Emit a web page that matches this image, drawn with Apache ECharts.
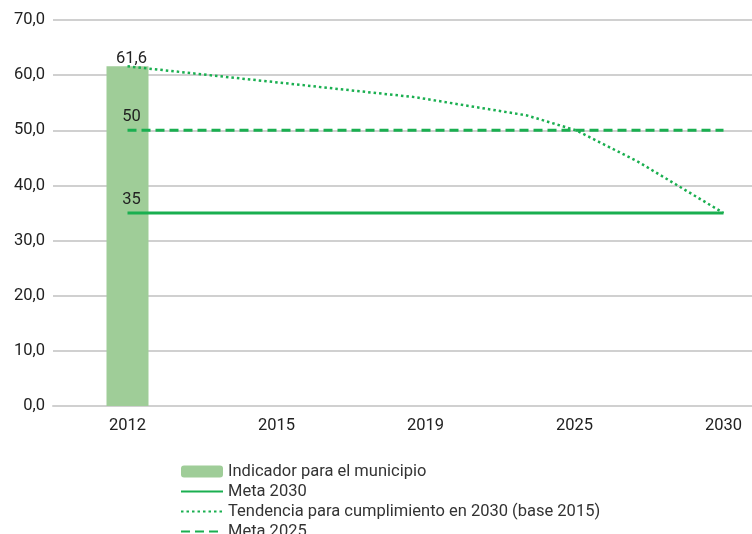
<!DOCTYPE html>
<html>
<head>
<meta charset="utf-8">
<script src="https://cdn.jsdelivr.net/npm/echarts@6/dist/echarts.min.js"></script>
<style>
  html, body { margin: 0; padding: 0; background: #fff; }
  #chart { width: 752px; height: 534px; }
</style>
</head>
<body>
<div id="chart"></div>
<script>
// categorias del eje x
const years = ['2012', '2015', '2019', '2025', '2030']
// indicador (barra)
const indicador = [61.6, null, null, null, null]
// metas
const meta2030 = [35, 35, 35, 35, 35]
const meta2025 = [50, 50, 50, 50, 50]
// tendencia: posicion en el eje de categorias (0 = 2012, 4 = 2030) y valor
const tendX = [0, 1.93, 2.68, 3.01, 3.42, 4]
const tendY = [61.6, 56.0, 52.7, 50.0, 44.4, 35]

const comma = (v) => Number(v).toFixed(1).replace('.', ',')
const green = '#1aaf50'
const font = 'Roboto, "Noto Sans", sans-serif'
const fs = 16.5

// solo la primera etiqueta de cada meta
const firstLabel = (arr) => arr.map((v, i) => i === 0
  ? { value: v, label: { show: true, position: 'top', distance: 5, formatter: String(v) } }
  : v)

const chart = echarts.init(document.getElementById('chart'))
chart.setOption({
  animation: false,
  textStyle: { fontFamily: font },
  grid: { left: 53, width: 745, top: 20, bottom: 128, outerBoundsMode: 'none', containLabel: false },
  legend: {
    orient: 'vertical',
    left: 175,
    top: 458,
    height: 300,
    itemGap: 3,
    itemWidth: 42,
    itemHeight: 12,
    textStyle: { fontSize: fs, color: '#333', fontFamily: font },
    data: [
      { name: 'Indicador para el municipio' },
      { name: 'Meta 2030', itemStyle: { opacity: 0 } },
      { name: 'Tendencia para cumplimiento en 2030 (base 2015)', itemStyle: { opacity: 0 } },
      { name: 'Meta 2025', itemStyle: { opacity: 0 } }
    ]
  },
  xAxis: [
    {
      type: 'category',
      data: years,
      axisLine: { lineStyle: { color: '#d0d0d0', width: 2 } },
      axisTick: { show: false },
      axisLabel: { fontSize: fs, color: '#222', margin: 11, fontFamily: font }
    },
    {
      type: 'value',
      min: -0.5,
      max: 4.5,
      show: false
    }
  ],
  yAxis: {
    type: 'value',
    min: 0,
    max: 70,
    interval: 10,
    axisLine: { show: false },
    axisTick: { show: false },
    axisLabel: { fontSize: fs, color: '#222', margin: 8, formatter: comma, fontFamily: font },
    splitLine: { lineStyle: { color: '#d0d0d0', width: 2 } }
  },
  series: [
    {
      name: 'Indicador para el municipio',
      type: 'bar',
      barWidth: 42,
      itemStyle: { color: '#9fcd98' },
      label: {
        show: true,
        position: 'top',
        distance: -1,
        offset: [4, 0],
        fontSize: fs,
        color: '#222',
        formatter: (p) => comma(p.value)
      },
      data: indicador
    },
    {
      name: 'Meta 2030',
      type: 'line',
      symbol: 'circle',
      symbolSize: 0,
      lineStyle: { color: green, width: 3, type: 'solid' },
      itemStyle: { color: green },
      label: { fontSize: fs, color: '#222', offset: [4, 0] },
      data: firstLabel(meta2030)
    },
    {
      name: 'Tendencia para cumplimiento en 2030 (base 2015)',
      type: 'line',
      xAxisIndex: 1,
      symbol: 'none',
      lineStyle: { color: green, width: 2.5, type: [2.5, 3] },
      itemStyle: { color: green },
      data: tendX.map((x, i) => [x, tendY[i]])
    },
    {
      name: 'Meta 2025',
      type: 'line',
      symbol: 'circle',
      symbolSize: 0,
      lineStyle: { color: green, width: 3, type: [9, 5] },
      itemStyle: { color: green },
      label: { fontSize: fs, color: '#222', offset: [4, 0] },
      data: firstLabel(meta2025)
    }
  ]
})
</script>
</body>
</html>
